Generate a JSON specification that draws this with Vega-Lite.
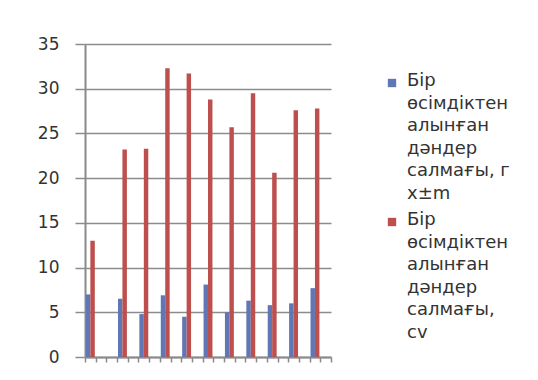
{
  "$schema": "https://vega.github.io/schema/vega-lite/v6.json",
  "width": 246,
  "height": 313,
  "autosize": {"type": "none"},
  "padding": {"left": 85, "top": 44, "right": 207, "bottom": 23},
  "background": "#ffffff",
  "data": {
    "values": [
      {"pos": 1, "series": "Бір\nөсімдіктен\nалынған\nдәндер\nсалмағы, г\nx±m", "value": 7.0},
      {"pos": 1, "series": "Бір\nөсімдіктен\nалынған\nдәндер\nсалмағы,\ncv", "value": 13.0},
      {"pos": 4, "series": "Бір\nөсімдіктен\nалынған\nдәндер\nсалмағы, г\nx±m", "value": 6.5},
      {"pos": 4, "series": "Бір\nөсімдіктен\nалынған\nдәндер\nсалмағы,\ncv", "value": 23.2},
      {"pos": 6, "series": "Бір\nөсімдіктен\nалынған\nдәндер\nсалмағы, г\nx±m", "value": 4.8},
      {"pos": 6, "series": "Бір\nөсімдіктен\nалынған\nдәндер\nсалмағы,\ncv", "value": 23.3},
      {"pos": 8, "series": "Бір\nөсімдіктен\nалынған\nдәндер\nсалмағы, г\nx±m", "value": 6.9},
      {"pos": 8, "series": "Бір\nөсімдіктен\nалынған\nдәндер\nсалмағы,\ncv", "value": 32.3},
      {"pos": 10, "series": "Бір\nөсімдіктен\nалынған\nдәндер\nсалмағы, г\nx±m", "value": 4.5},
      {"pos": 10, "series": "Бір\nөсімдіктен\nалынған\nдәндер\nсалмағы,\ncv", "value": 31.7},
      {"pos": 12, "series": "Бір\nөсімдіктен\nалынған\nдәндер\nсалмағы, г\nx±m", "value": 8.1},
      {"pos": 12, "series": "Бір\nөсімдіктен\nалынған\nдәндер\nсалмағы,\ncv", "value": 28.8},
      {"pos": 14, "series": "Бір\nөсімдіктен\nалынған\nдәндер\nсалмағы, г\nx±m", "value": 5.0},
      {"pos": 14, "series": "Бір\nөсімдіктен\nалынған\nдәндер\nсалмағы,\ncv", "value": 25.7},
      {"pos": 16, "series": "Бір\nөсімдіктен\nалынған\nдәндер\nсалмағы, г\nx±m", "value": 6.3},
      {"pos": 16, "series": "Бір\nөсімдіктен\nалынған\nдәндер\nсалмағы,\ncv", "value": 29.5},
      {"pos": 18, "series": "Бір\nөсімдіктен\nалынған\nдәндер\nсалмағы, г\nx±m", "value": 5.8},
      {"pos": 18, "series": "Бір\nөсімдіктен\nалынған\nдәндер\nсалмағы,\ncv", "value": 20.6},
      {"pos": 20, "series": "Бір\nөсімдіктен\nалынған\nдәндер\nсалмағы, г\nx±m", "value": 6.0},
      {"pos": 20, "series": "Бір\nөсімдіктен\nалынған\nдәндер\nсалмағы,\ncv", "value": 27.6},
      {"pos": 22, "series": "Бір\nөсімдіктен\nалынған\nдәндер\nсалмағы, г\nx±m", "value": 7.7},
      {"pos": 22, "series": "Бір\nөсімдіктен\nалынған\nдәндер\nсалмағы,\ncv", "value": 27.8}
    ]
  },
  "mark": {"type": "bar"},
  "encoding": {
    "x": {
      "field": "pos",
      "type": "ordinal",
      "scale": {
        "domain": [1, 2, 3, 4, 5, 6, 7, 8, 9, 10, 11, 12, 13, 14, 15, 16, 17, 18, 19, 20, 21, 22, 23],
        "paddingInner": 0,
        "paddingOuter": 0
      },
      "axis": {
        "title": null,
        "labels": false,
        "tickBand": "extent",
        "ticks": true,
        "tickSize": 5,
        "tickColor": "#8a8a8a",
        "tickWidth": 1.5,
        "domainColor": "#8a8a8a",
        "domainWidth": 2,
        "grid": false
      }
    },
    "xOffset": {
      "field": "series",
      "type": "nominal",
      "sort": ["Бір\nөсімдіктен\nалынған\nдәндер\nсалмағы, г\nx±m", "Бір\nөсімдіктен\nалынған\nдәндер\nсалмағы,\ncv"],
      "scale": {"paddingOuter": 0.2, "paddingInner": 0}
    },
    "y": {
      "field": "value",
      "type": "quantitative",
      "scale": {"domain": [0, 35], "nice": false},
      "axis": {
        "title": null,
        "values": [0, 5, 10, 15, 20, 25, 30, 35],
        "grid": true,
        "gridColor": "#8c8c8c",
        "gridWidth": 1.5,
        "tickColor": "#8c8c8c",
        "tickWidth": 1.5,
        "tickSize": 10,
        "domainColor": "#8a8a8a",
        "domainWidth": 2,
        "labelPadding": 16,
        "labelFont": "DejaVu Sans",
        "labelFontSize": 17,
        "labelColor": "#333333"
      }
    },
    "color": {
      "field": "series",
      "type": "nominal",
      "sort": ["Бір\nөсімдіктен\nалынған\nдәндер\nсалмағы, г\nx±m", "Бір\nөсімдіктен\nалынған\nдәндер\nсалмағы,\ncv"],
      "scale": {"range": ["#5f77b5", "#bd4f4e"]},
      "legend": {
        "title": null,
        "orient": "none",
        "legendX": 298,
        "legendY": 30,
        "padding": 0,
        "symbolType": "square",
        "symbolSize": 70,
        "symbolStrokeWidth": 0,
        "labelFont": "DejaVu Sans",
        "labelFontSize": 18,
        "labelColor": "#333333",
        "labelLimit": 200,
        "labelOffset": 6,
        "labelBaseline": "top",
        "labelExpr": "split(datum.label, '\\n')",
        "rowPadding": 8,
        "encode": {"labels": {"update": {"dy": {"value": -11}, "lineHeight": {"value": 22.5}}}}
      }
    }
  },
  "config": {
    "view": {"stroke": null}
  }
}
